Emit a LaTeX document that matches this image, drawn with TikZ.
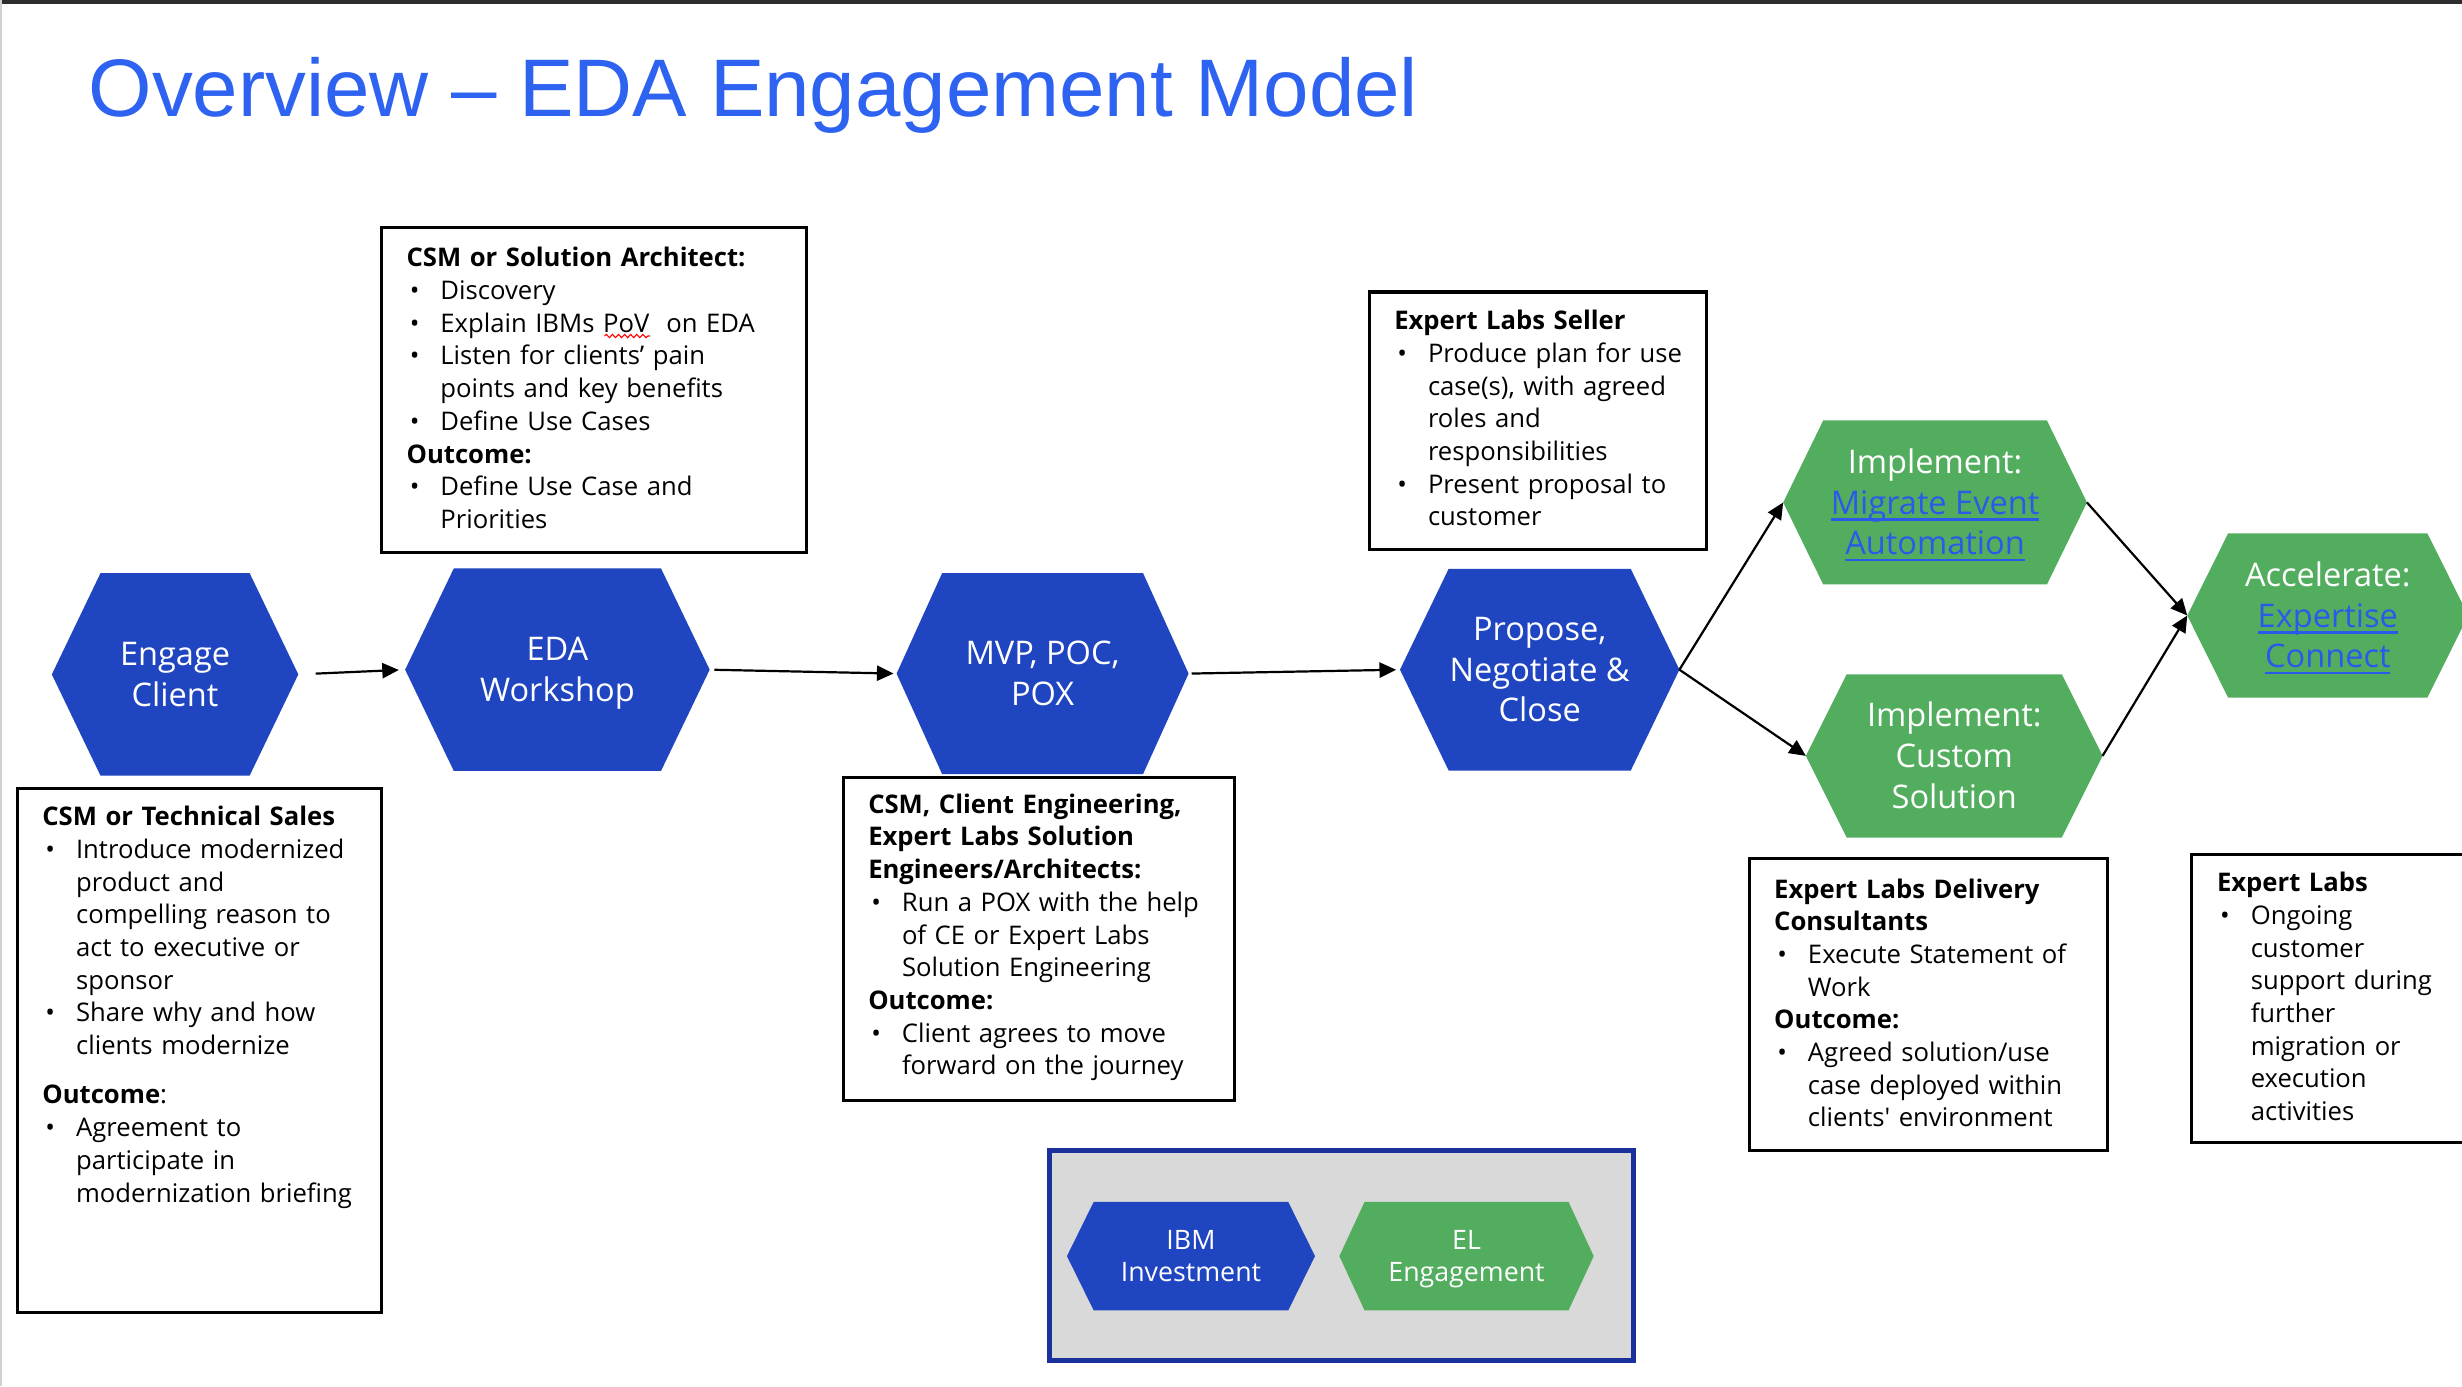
\documentclass[tikz,border=0pt]{standalone}
\usepackage{fontspec}
\setmainfont{Open Sans}
\newfontfamily\titlefont{Liberation Sans}
\usetikzlibrary{arrows.meta,decorations.pathmorphing}

\definecolor{hexblue}{RGB}{31,69,192}
\definecolor{hexgreen}{RGB}{82,173,94}
\definecolor{titleblue}{RGB}{46,98,240}
\definecolor{linkblue}{RGB}{43,90,235}
\definecolor{legendline}{RGB}{26,48,155}
\definecolor{legendfill}{RGB}{217,217,217}
\definecolor{topbar}{RGB}{45,45,45}

\newcommand{\linktext}[1]{\textcolor{linkblue}{\setbox0\hbox{#1}\rlap{\rule[-2.4pt]{\wd0}{0.9pt}}\box0}}
\newcommand{\bul}{\makebox[0.43cm][l]{\hspace{0.04cm}\textbullet}}
\newcommand{\indline}{\hspace*{0.43cm}}
\newcommand{\hexstrut}{\rule[-0.215\baselineskip]{0pt}{\baselineskip}}
\newcommand{\boxfont}{\fontsize{9.3}{11.85}\selectfont}
\newcommand{\hexfont}{\fontsize{11.8}{14.74}\selectfont}
\newcommand{\smallhexfont}{\fontsize{9.7}{11.9}\selectfont}

\tikzset{
  hexa/.style n args={4}{shape=rectangle, inner sep=0pt, outer sep=0pt,
    minimum width=#1, minimum height=#2, align=center, text=white, font=\hexfont,
    path picture={\fill[#4] (path picture bounding box.west)
      -- ([xshift=#3]path picture bounding box.north west)
      -- ([xshift=-#3]path picture bounding box.north east)
      -- (path picture bounding box.east)
      -- ([xshift=-#3]path picture bounding box.south east)
      -- ([xshift=#3]path picture bounding box.south west) -- cycle;}},
  infobox/.style={draw, line width=1.1pt, anchor=north west, align=left,
    inner xsep=0.22cm, inner ysep=0pt, font=\boxfont,
    execute at begin node={\leftskip=0.1cm\relax}},
  legendbox/.style={draw=legendline, fill=legendfill, line width=1.8pt, anchor=north west},
  flow/.style={line width=0.8pt, -{Triangle[length=6pt,width=5.5pt]}},
  spellwave/.style={red, line width=0.4pt, decorate,
    decoration={snake, segment length=2.2pt, amplitude=0.6pt}},
}

\begin{document}
\begin{tikzpicture}[x=0.02cm, y=-0.02cm]

    % Page
    \clip (0,0) rectangle (1568,883);
    \fill[white] (0,0) rectangle (1568,883);
    \fill[topbar] (0,0) rectangle (1568,2.5);
    \fill[black!18] (0,0) rectangle (1.5,883);

    % Title
    \node[anchor=base west, inner sep=0pt, text=titleblue,
      font=\titlefont\fontsize{29.6}{36}\selectfont] (title) at (56,74)
      {Overview – EDA Engagement Model};

    % Steps
    \node[hexa={3.14cm}{2.58cm}{0.62cm}{hexblue}] (engage) at (111.5,429.5) {\hexstrut Engage\\Client\hexstrut};
    \node[hexa={3.88cm}{2.58cm}{0.62cm}{hexblue}] (workshop) at (355,426.5) {\hexstrut EDA\\Workshop\hexstrut};
    \node[hexa={3.72cm}{2.56cm}{0.58cm}{hexblue}] (mvp) at (664,429) {\hexstrut MVP, POC,\\POX\hexstrut};
    \node[hexa={3.56cm}{2.57cm}{0.62cm}{hexblue}] (propose) at (980.6,426.5) {\hexstrut Propose,\\Negotiate \&\\Close\hexstrut};
    \node[hexa={3.87cm}{2.09cm}{0.51cm}{hexgreen}] (migrate) at (1232.4,320)
      {\hexstrut Implement:\\\linktext{Migrate Event}\\\linktext{Automation}\hexstrut};
    \node[hexa={3.78cm}{2.08cm}{0.52cm}{hexgreen}] (custom) at (1244.6,481.4) {\hexstrut Implement:\\Custom\\Solution\hexstrut};
    \node[hexa={3.58cm}{2.09cm}{0.52cm}{hexgreen}] (accel) at (1482.5,392)
      {\hexstrut Accelerate:\\\linktext{Expertise}\\\linktext{Connect}\hexstrut};

    % Flow
    \draw[flow, shorten <=0.22cm, shorten >=0.08cm] (engage.east) -- (workshop.west);
    \draw[flow, shorten <=0.06cm, shorten >=0.04cm] (workshop.east) -- (mvp.west);
    \draw[flow, shorten <=0.04cm, shorten >=0.05cm] (mvp.east) -- (propose.west);
    \draw[flow] (propose.east) -- (migrate.west);
    \draw[flow] (propose.east) -- (custom.west);
    \draw[flow] (migrate.east) -- (accel.west);
    \draw[flow] (custom.east) -- (accel.west);

    % Notes
    \node[infobox, text width=4.98cm, text height=0.5cm, text depth=3.64cm] (workshopnotes) at (242,144) {
    \textbf{CSM or Solution Architect:}\\
    \bul Discovery\\
    \bul Explain IBMs PoV~ on EDA\\
    \bul Listen for clients’ pain\\
    \indline points and key benefits\\
    \bul Define Use Cases\\
    \textbf{Outcome:}\\
    \bul Define Use Case and\\
    \indline Priorities
    };
    \draw[spellwave] ([shift={(143,70)}]workshopnotes.north west) -- ++(29,0);
    \node[infobox, text width=3.86cm, text height=0.48cm, text depth=2.8cm] (sellernotes) at (871,185) {
    \textbf{Expert Labs Seller}\\
    \bul Produce plan for use\\
    \indline case(s), with agreed\\
    \indline roles and\\
    \indline responsibilities\\
    \bul Present proposal to\\
    \indline customer
    };
    \node[infobox, text width=4.2cm, text height=0.48cm, text depth=6.2cm] (engagenotes) at (10,501) {
    \textbf{CSM or Technical Sales}\\
    \bul Introduce modernized\\
    \indline product and\\
    \indline compelling reason to\\
    \indline act to executive or\\
    \indline sponsor\\
    \bul Share why and how\\
    \indline clients modernize\\[6pt]
    \textbf{Outcome}:\\
    \bul Agreement to\\
    \indline participate in\\
    \indline modernization briefing
    };
    \node[infobox, text width=4.54cm, text height=0.46cm, text depth=3.66cm] (mvpnotes) at (536,494) {
    \textbf{CSM, Client Engineering,}\\
    \textbf{Expert Labs Solution}\\
    \textbf{Engineers/Architects:}\\
    \bul Run a POX with the help\\
    \indline of CE or Expert Labs\\
    \indline Solution Engineering\\
    \textbf{Outcome:}\\
    \bul Client agrees to move\\
    \indline forward on the journey
    };
    \node[infobox, text width=4.12cm, text height=0.5cm, text depth=3.22cm] (deliverynotes) at (1113,546) {
    \textbf{Expert Labs Delivery}\\
    \textbf{Consultants}\\
    \bul Execute Statement of\\
    \indline Work\\
    \textbf{Outcome:}\\
    \bul Agreed solution/use\\
    \indline case deployed within\\
    \indline clients\textquotesingle\ environment
    };
    \node[infobox, text width=3.86cm, text height=0.48cm, text depth=3.2cm] (accelnotes) at (1395,543) {
    \textbf{Expert Labs}\\
    \bul Ongoing\\
    \indline customer\\
    \indline support during\\
    \indline further\\
    \indline migration or\\
    \indline execution\\
    \indline activities
    };

    % Legend
    \node[legendbox, minimum width=7.44cm, minimum height=2.68cm] (legend) at (667,731) {};
    \node[hexa={3.16cm}{1.38cm}{0.34cm}{hexblue}, font=\smallhexfont] (ibm) at (758.5,800) {\hexstrut IBM\\Investment\hexstrut};
    \node[hexa={3.24cm}{1.38cm}{0.32cm}{hexgreen}, font=\smallhexfont] (el) at (934,800) {\hexstrut EL\\Engagement\hexstrut};

\end{tikzpicture}
\end{document}
